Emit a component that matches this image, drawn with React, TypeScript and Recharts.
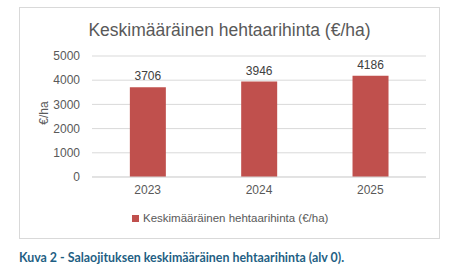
import { BarChart, Bar, XAxis, YAxis, CartesianGrid, LabelList } from "recharts";

const years = ["2023", "2024", "2025"];
const prices = [3706, 3946, 4186];
const yTicks = [0, 1000, 2000, 3000, 4000, 5000];

const seriesName = "Keskimääräinen hehtaarihinta (€/ha)";
const title = "Keskimääräinen hehtaarihinta (€/ha)";
const caption = "Kuva 2 - Salaojituksen keskimääräinen hehtaarihinta (alv 0).";

const data = years.map((year, i) => ({ year, value: prices[i] }));

const TEXT = "#595959";
const BAR = "#C0504D";
const FONT = "'Liberation Sans', Arial, sans-serif";

const YLabel = () => (
  <text
    x={25}
    y={106}
    transform="rotate(-90 25 106)"
    textAnchor="middle"
    dominantBaseline="central"
    fill={TEXT}
    fontSize={12}
    fontFamily={FONT}
  >
    €/ha
  </text>
);

export default function App() {
  return (
    <div
      style={{
        position: "absolute",
        left: 0,
        top: 0,
        width: 459,
        height: 272,
        background: "#fff",
        fontFamily: FONT,
      }}
    >
      <div
        style={{
          position: "absolute",
          left: 19,
          top: 7,
          width: 419,
          height: 230,
          border: "1px solid #d9d9d9",
        }}
      >
        <div
          style={{
            position: "absolute",
            top: 12,
            left: 0,
            width: "100%",
            textAlign: "center",
            fontSize: 17.5,
            color: TEXT,
          }}
        >
          {title}
        </div>
        <div style={{ position: "absolute", left: -1, top: -1 }}>
          <BarChart
            width={421}
            height={232}
            data={data}
            margin={{ top: 49, right: 14, bottom: 32, left: 0 }}
            barCategoryGap="34%"
          >
            <CartesianGrid vertical={false} stroke="#d9d9d9" />
            <XAxis
              dataKey="year"
              axisLine={{ stroke: "#d9d9d9" }}
              tickLine={false}
              tick={{ fill: TEXT, fontSize: 12, fontFamily: FONT }}
              height={30}
            />
            <YAxis
              width={73}
              domain={[0, 5000]}
              ticks={yTicks}
              axisLine={false}
              tickLine={false}
              tickMargin={6}
              tick={{ fill: TEXT, fontSize: 12, fontFamily: FONT }}
              label={<YLabel />}
            />
            <Bar dataKey="value" name={seriesName} fill={BAR} isAnimationActive={false}>
              <LabelList
                dataKey="value"
                position="top"
                offset={7}
                fill="#404040"
                fontSize={12}
                fontFamily={FONT}
              />
            </Bar>
          </BarChart>
        </div>
        <div
          style={{
            position: "absolute",
            top: 204,
            left: 112,
            display: "flex",
            alignItems: "center",
            fontSize: 11.5,
            color: TEXT,
          }}
        >
          <span
            style={{
              display: "inline-block",
              width: 7,
              height: 7,
              background: BAR,
              marginRight: 4,
            }}
          />
          {seriesName}
        </div>
      </div>
      <div
        style={{
          position: "absolute",
          left: 19,
          top: 250,
          fontFamily: "Lato, sans-serif",
          fontWeight: 700,
          fontSize: 12.4,
          color: "#1F5F84",
        }}
      >
        {caption}
      </div>
    </div>
  );
}
